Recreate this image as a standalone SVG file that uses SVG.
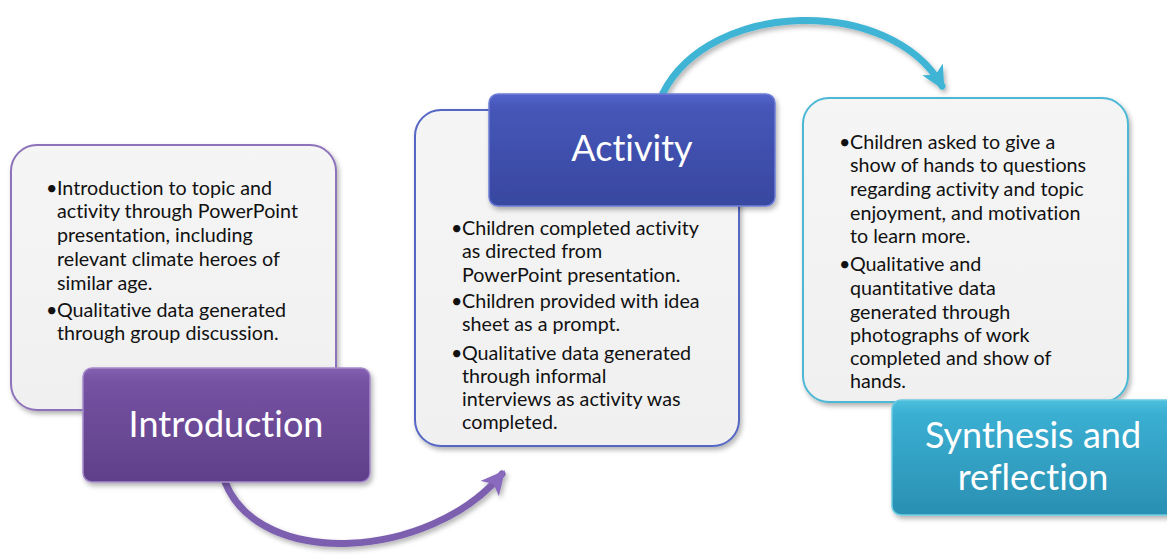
<svg xmlns="http://www.w3.org/2000/svg" width="1167" height="555" viewBox="0 0 1167 555">
<style>
text{font-variant-ligatures:none;font-feature-settings:"liga" 0}
.body{font-family:Lato,"Liberation Sans",Arial,sans-serif;font-size:19.7px;fill:#111}
.head{font-family:Lato,"Liberation Sans",Arial,sans-serif;font-size:36px;fill:#fff;text-anchor:middle}
</style>
<defs>
<linearGradient id="gPur" x1="0" y1="0" x2="0" y2="1"><stop offset="0" stop-color="#8560B0"/><stop offset="0.12" stop-color="#7652A3"/><stop offset="1" stop-color="#5F4088"/></linearGradient>
<linearGradient id="gBlu" x1="0" y1="0" x2="0" y2="1"><stop offset="0" stop-color="#5565CC"/><stop offset="0.12" stop-color="#4656B8"/><stop offset="1" stop-color="#3848A0"/></linearGradient>
<linearGradient id="gCya" x1="0" y1="0" x2="0" y2="1"><stop offset="0" stop-color="#4EC0DD"/><stop offset="0.12" stop-color="#3AAFD2"/><stop offset="1" stop-color="#2A90B2"/></linearGradient>
<linearGradient id="gBox" x1="0" y1="0" x2="0" y2="1"><stop offset="0" stop-color="#F5F5F5"/><stop offset="1" stop-color="#F0F0F0"/></linearGradient>
<filter id="sh" x="-10%" y="-10%" width="130%" height="130%"><feDropShadow dx="2" dy="3" stdDeviation="2.5" flood-color="#000" flood-opacity="0.3"/></filter>
<marker id="mPur" viewBox="0 0 10 10" refX="8" refY="5" markerWidth="3.4" markerHeight="3.4" orient="auto" markerUnits="strokeWidth"><path d="M0,0 L10,5 L0,10 L2.5,5 Z" fill="#8A6BBE"/></marker>
<marker id="mCya" viewBox="0 0 10 10" refX="8" refY="5" markerWidth="3.4" markerHeight="3.4" orient="auto" markerUnits="strokeWidth"><path d="M0,0 L10,5 L0,10 L2.5,5 Z" fill="#3FB4D4"/></marker>
</defs>

<g id="connectors" fill="none" stroke-linecap="round">
<path d="M663,93 C710,0 890,-5 942,86" stroke="#3FB4D4" stroke-width="7" marker-end="url(#mCya)" filter="url(#sh)"/>
<path d="M225,482 C260,570 430,560 502,474" stroke="#7D5EB0" stroke-width="7" marker-end="url(#mPur)" filter="url(#sh)"/>
</g>

<g id="intro-content">
<rect x="11" y="145" width="325" height="265" rx="26" fill="url(#gBox)" stroke="#8E72BA" stroke-width="2" filter="url(#sh)"/>
<text class="body" x="46" y="195">•</text>
<text class="body" x="57" y="195">Introduction to topic and</text>
<text class="body" x="57" y="218">activity through PowerPoint</text>
<text class="body" x="57" y="242">presentation, including</text>
<text class="body" x="57" y="266">relevant climate heroes of</text>
<text class="body" x="57" y="290">similar age.</text>
<text class="body" x="46" y="317">•</text>
<text class="body" x="57" y="317">Qualitative data generated</text>
<text class="body" x="57" y="340">through group discussion.</text>
</g>

<g id="intro-head">
<rect x="83" y="368" width="287" height="114" rx="9" fill="url(#gPur)" stroke="#A58BCB" stroke-width="1.5" filter="url(#sh)"/>
<text class="head" x="226" y="437">Introduction</text>
</g>

<g id="activity-content">
<rect x="415" y="110" width="324" height="336" rx="26" fill="url(#gBox)" stroke="#5466C4" stroke-width="2" filter="url(#sh)"/>
<text class="body" x="451" y="235">•</text>
<text class="body" x="462" y="235">Children completed activity</text>
<text class="body" x="462" y="258">as directed from</text>
<text class="body" x="462" y="282">PowerPoint presentation.</text>
<text class="body" x="451" y="308">•</text>
<text class="body" x="462" y="308">Children provided with idea</text>
<text class="body" x="462" y="331">sheet as a prompt.</text>
<text class="body" x="451" y="360">•</text>
<text class="body" x="462" y="360">Qualitative data generated</text>
<text class="body" x="462" y="383">through informal</text>
<text class="body" x="462" y="406">interviews as activity was</text>
<text class="body" x="462" y="429">completed.</text>
</g>

<g id="activity-head">
<rect x="489" y="94" width="286" height="112" rx="9" fill="url(#gBlu)" stroke="#6E7DD6" stroke-width="1.5" filter="url(#sh)"/>
<text class="head" x="632" y="161">Activity</text>
</g>

<g id="synthesis-content">
<rect x="803" y="98" width="325" height="304" rx="26" fill="url(#gBox)" stroke="#4DB8D5" stroke-width="2" filter="url(#sh)"/>
<text class="body" x="839" y="149">•</text>
<text class="body" x="850" y="149">Children asked to give a</text>
<text class="body" x="850" y="172">show of hands to questions</text>
<text class="body" x="850" y="196">regarding activity and topic</text>
<text class="body" x="850" y="220">enjoyment, and motivation</text>
<text class="body" x="850" y="243">to learn more.</text>
<text class="body" x="839" y="271">•</text>
<text class="body" x="850" y="271">Qualitative and</text>
<text class="body" x="850" y="295">quantitative data</text>
<text class="body" x="850" y="319">generated through</text>
<text class="body" x="850" y="342">photographs of work</text>
<text class="body" x="850" y="365">completed and show of</text>
<text class="body" x="850" y="388">hands.</text>
</g>

<g id="synthesis-head">
<rect x="892" y="400" width="285" height="115" rx="9" fill="url(#gCya)" stroke="#6CCBE3" stroke-width="1.5" filter="url(#sh)"/>
<text class="head" x="1033" y="448">Synthesis and</text>
<text class="head" x="1033" y="490">reflection</text>
</g>
</svg>
